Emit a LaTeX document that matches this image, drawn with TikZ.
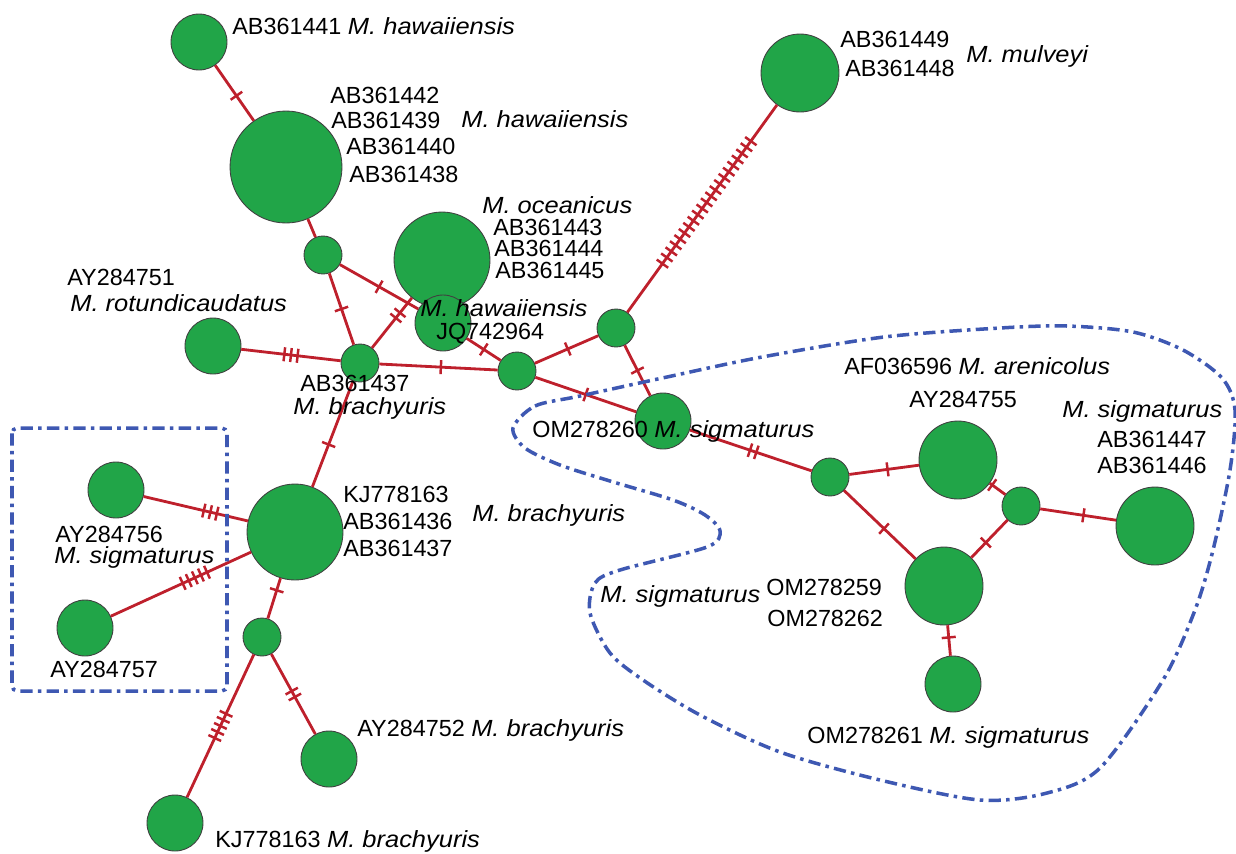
\documentclass[tikz,border=0pt]{standalone}
\usepackage{fontspec}
\setmainfont{Liberation Sans}[ItalicFeatures={FakeStretch=1.09}]
\usetikzlibrary{decorations.markings}
\definecolor{hapgreen}{RGB}{33,165,72}
\definecolor{linkred}{RGB}{190,32,44}
\definecolor{groupblue}{RGB}{62,88,178}
\begin{document}
\begin{tikzpicture}[
                            x=0.02cm, y=-0.02cm,
                            hap/.style={circle, draw=black!75, line width=0.5pt, fill=hapgreen, inner sep=0pt},
                            hs/.style={hap, minimum size=0.76cm},
                            hm/.style={hap, minimum size=1.12cm},
                            hb/.style={hap, minimum size=1.56cm},
                            hl/.style={hap, minimum size=1.92cm},
                            hx/.style={hap, minimum size=2.24cm},
                            lab/.style={anchor=base west, inner sep=0pt, font=\fontsize{13.3}{15}\selectfont},
                            link/.style={draw=linkred, line width=1.6pt},
                            tick gap/.store in=\tgap, tick gap=3.8pt,
                            mut/.style args={#1/#2}{postaction={decorate, decoration={markings,
                                mark=at position #2 with {\foreach \k in {1,...,#1}
                                    \draw [linkred, line width=1.4pt] ({(\k-(#1+1)/2)*\tgap},-4pt) -- ++(0pt,8pt);}}}},
                            group/.style={draw=groupblue, line width=2pt, dash pattern=on 7pt off 3pt on 2pt off 3pt}
                        ]
                        \useasboundingbox (0,0) rectangle (1236,853);

                        % Haplotypes
                        \node [hm] (hawA) at (199,42) {};
                        \node [hx] (hawB) at (286,167) {};
                        \node [hs] (mv1) at (323,255) {};
                        \node [hl] (oce) at (442,260) {};
                        \node [hm] (hawC) at (443,323) {};
                        \node [hs] (bra1) at (360,363) {};
                        \node [hm] (rot) at (213,346) {};
                        \node [hs] (mv2) at (517,371) {};
                        \node [hs] (mv3) at (616,328) {};
                        \node [hb] (mul) at (800,73) {};
                        \node [hm] (sig1) at (663,421) {};
                        \node [hs] (mv4) at (830,477) {};
                        \node [hb] (are) at (958,460) {};
                        \node [hs] (mv5) at (1021,506) {};
                        \node [hb] (sig2) at (1155,526) {};
                        \node [hb] (sig3) at (944,586) {};
                        \node [hm] (sig4) at (953,684) {};
                        \node [hl] (bra2) at (295,532) {};
                        \node [hm] (sig5) at (116,490) {};
                        \node [hm] (sig6) at (85,628) {};
                        \node [hs] (mv6) at (262,637) {};
                        \node [hm] (bra3) at (329,759) {};
                        \node [hm] (bra4) at (175,823) {};

                        % Connections
                        \draw [link, mut={1/0.55}] (hawA) -- (hawB);
                        \draw [link] (hawB) -- (mv1);
                        \draw [link, mut={1/0.5}] (mv1) -- (bra1);
                        \draw [link, mut={1/0.5}] (mv1) -- (hawC);
                        \draw [link, mut={1/0.5}] (hawC) -- (mv2);
                        \draw [link, mut={2/0.65}] (bra1) -- (oce);
                        \draw [link, mut={3/0.5}] (rot) -- (bra1);
                        \draw [link, mut={1/0.52}] (bra1) -- (mv2);
                        \draw [link, mut={1/0.52}] (mv2) -- (mv3);
                        \draw [link, tick gap=4.3pt, mut={21/0.53}] (mv3) -- (mul);
                        \draw [link, mut={1/0.5}] (mv3) -- (sig1);
                        \draw [link, mut={1/0.5}] (mv2) -- (sig1);
                        \draw [link, mut={2/0.52}] (sig1) -- (mv4);
                        \draw [link, mut={1/0.55}] (mv4) -- (are);
                        \draw [link, mut={1/0.56}] (mv4) -- (sig3);
                        \draw [link, mut={1/0.15}] (are) -- (mv5);
                        \draw [link, mut={1/0.6}] (mv5) -- (sig3);
                        \draw [link, mut={1/0.57}] (mv5) -- (sig2);
                        \draw [link, mut={1/0.4}] (sig3) -- (sig4);
                        \draw [link, mut={1/0.6}] (bra1) -- (bra2);
                        \draw [link, mut={3/0.64}] (sig5) -- (bra2);
                        \draw [link, mut={5/0.6}] (sig6) -- (bra2);
                        \draw [link, mut={1/0.3}] (bra2) -- (mv6);
                        \draw [link, mut={2/0.5}] (mv6) -- (bra3);
                        \draw [link, mut={5/0.5}] (mv6) -- (bra4);

                        % Groups
                        \draw [group, rounded corners=3pt] (12,428) rectangle (227,691);
                        \draw [group] plot [smooth cycle, tension=0.5] coordinates {
                            (513,428) (535,406) (580,396) (667,377) (762,357) (884,337) (1000,328)
                            (1067,326) (1133,332) (1183,350) (1222,378) (1235,410) (1230,470)
                            (1213,550) (1195,610) (1163,680) (1100,768) (1047,793) (980,800)
                            (880,780) (780,752) (700,715) (643,680) (610,653) (590,613) (595,583)
                            (620,570) (707,547) (720,531) (705,515) (673,500) (610,481) (560,465)
                            (525,448)};

                        % Labels
                        \node [lab] (lhawA) at (232,34) {AB361441 \textit{M. hawaiiensis}};
                        \node [lab] (lhawB1) at (330,103) {AB361442};
                        \node [lab] (lhawB2) at (331,128) {AB361439};
                        \node [lab] (lhawB3) at (346,154) {AB361440};
                        \node [lab] (lhawB4) at (349,182) {AB361438};
                        \node [lab] (lhawB) at (461,127) {\textit{M. hawaiiensis}};
                        \node [lab] (loce) at (482,213) {\textit{M. oceanicus}};
                        \node [lab] (loce1) at (493,235) {AB361443};
                        \node [lab] (loce2) at (494,256) {AB361444};
                        \node [lab] (loce3) at (495,278) {AB361445};
                        \node [lab] (lhawC) at (420,316) {\textit{M. hawaiiensis}};
                        \node [lab] (lhawC1) at (436,339) {JQ742964};
                        \node [lab] (lbra1a) at (300,391) {AB361437};
                        \node [lab] (lbra1) at (293,414) {\textit{M. brachyuris}};
                        \node [lab] (lrot1) at (67,285) {AY284751};
                        \node [lab] (lrot) at (70,311) {\textit{M. rotundicaudatus}};
                        \node [lab] (lmul1) at (840,47) {AB361449};
                        \node [lab] (lmul2) at (845,76) {AB361448};
                        \node [lab] (lmul) at (966,62) {\textit{M. mulveyi}};
                        \node [lab] (lsig1) at (532,437) {OM278260 \textit{M. sigmaturus}};
                        \node [lab] (lare) at (844,374) {AF036596 \textit{M. arenicolus}};
                        \node [lab] (lare1) at (909,407) {AY284755};
                        \node [lab] (lsig2) at (1062,417) {\textit{M. sigmaturus}};
                        \node [lab] (lsig2a) at (1097,447) {AB361447};
                        \node [lab] (lsig2b) at (1097,473) {AB361446};
                        \node [lab] (lsig3a) at (766,595) {OM278259};
                        \node [lab] (lsig3b) at (767,626) {OM278262};
                        \node [lab] (lsig3) at (600,602) {\textit{M. sigmaturus}};
                        \node [lab] (lsig4) at (807,743) {OM278261 \textit{M. sigmaturus}};
                        \node [lab] (lbra2a) at (343,502) {KJ778163};
                        \node [lab] (lbra2b) at (343,529) {AB361436};
                        \node [lab] (lbra2c) at (343,556) {AB361437};
                        \node [lab] (lbra2) at (472,521) {\textit{M. brachyuris}};
                        \node [lab] (lsig5a) at (55,542) {AY284756};
                        \node [lab] (lsig5) at (54,563) {\textit{M. sigmaturus}};
                        \node [lab] (lsig6) at (50,677) {AY284757};
                        \node [lab] (lbra3) at (357,736) {AY284752 \textit{M. brachyuris}};
                        \node [lab] (lbra4) at (215,847) {KJ778163 \textit{M. brachyuris}};
                    \end{tikzpicture}
\end{document}
